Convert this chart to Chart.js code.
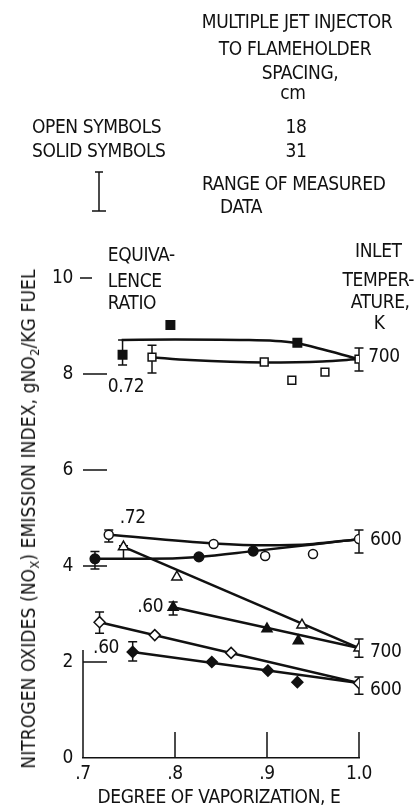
<!DOCTYPE html>
<html>
<head>
<meta charset="utf-8">
<script src="https://cdn.jsdelivr.net/npm/chart.js@4.4.0/dist/chart.umd.min.js"></script>
<style>
  html, body { margin: 0; padding: 0; background: #fff; }
  #wrap { position: relative; width: 420px; height: 808px; overflow: hidden;
          font-family: "Liberation Sans Narrow", "DejaVu Sans Condensed", sans-serif;
          font-size: 19px; color: #111; letter-spacing: -0.4px; }
  #wrap canvas { position: absolute; left: 0; top: 0; }
  .t { position: absolute; white-space: nowrap; line-height: 20px; }
  .c { transform: translateX(-50%); }
  #ytitle { position: absolute; left: 28px; top: 519px; white-space: nowrap; line-height: 20px;
            letter-spacing: 0.1px; transform: translate(-50%, -50%) rotate(-90deg); }
  #xtitle { position: absolute; left: 219px; top: 786px; white-space: nowrap; line-height: 20px;
            transform: translateX(-50%); }
  sub { font-size: 13px; vertical-align: -4px; line-height: 0; }
</style>
</head>
<body>
<div id="wrap">
  <canvas id="noxChart" width="420" height="808"></canvas>

  <div class="t c" style="left:297px; top:11px">MULTIPLE JET INJECTOR</div>
  <div class="t c" style="left:295px; top:38px">TO FLAMEHOLDER</div>
  <div class="t c" style="left:300px; top:62px">SPACING,</div>
  <div class="t c" style="left:293px; top:82px">cm</div>
  <div class="t" style="left:32px; top:116px">OPEN SYMBOLS</div>
  <div class="t c" style="left:296px; top:116px">18</div>
  <div class="t" style="left:32px; top:140px">SOLID SYMBOLS</div>
  <div class="t c" style="left:296px; top:140px">31</div>
  <div class="t" style="left:202px; top:173px">RANGE OF MEASURED</div>
  <div class="t" style="left:220px; top:196px">DATA</div>

  <div id="ytitle">NITROGEN OXIDES (NO<sub>X</sub>) EMISSION INDEX, gNO<sub>2</sub>/KG FUEL</div>
  <div id="xtitle">DEGREE OF VAPORIZATION, E</div>
</div>

<script>
// axis ticks
const xTicks = [0.7, 0.8, 0.9, 1.0];
const xTickLabels = ['.7', '.8', '.9', '1.0'];
const yTicks = [0, 2, 4, 6, 8, 10];
const yTickLabels = ['0', '2', '4', '6', '8', '10'];

// measured points (open = 18 cm spacing, solid = 31 cm spacing)
const sqOpenE = [0.775, 0.897, 0.927, 0.963, 1.0];
const sqOpenN = [8.35, 8.25, 7.87, 8.04, 8.31];
const sqSolidE = [0.743, 0.795, 0.933];
const sqSolidN = [8.40, 9.02, 8.65];
const ciOpenE = [0.728, 0.842, 0.898, 0.950, 1.0];
const ciOpenN = [4.65, 4.46, 4.21, 4.25, 4.56];
const ciSolidE = [0.713, 0.826, 0.885];
const ciSolidN = [4.15, 4.19, 4.31];
const trOpenE = [0.744, 0.802, 0.938, 1.0];
const trOpenN = [4.40, 3.77, 2.77, 2.29];
const trSolidE = [0.798, 0.900, 0.934];
const trSolidN = [3.14, 2.69, 2.44];
const diOpenE = [0.718, 0.778, 0.861, 1.0];
const diOpenN = [2.83, 2.56, 2.19, 1.56];
const diSolidE = [0.754, 0.840, 0.901, 0.933];
const diSolidN = [2.21, 2.00, 1.82, 1.58];

// faired curves
const fitSqSolidE = [0.742, 0.80, 0.87, 0.93, 0.965, 1.0];
const fitSqSolidN = [8.71, 8.72, 8.71, 8.65, 8.49, 8.31];
const fitSqOpenE = [0.775, 0.816, 0.897, 0.96, 1.0];
const fitSqOpenN = [8.35, 8.29, 8.24, 8.26, 8.31];
const fitCiOpenE = [0.728, 0.842, 0.90, 0.95, 1.0];
const fitCiOpenN = [4.65, 4.47, 4.43, 4.46, 4.56];
const fitCiSolidE = [0.713, 0.77, 0.826, 0.885, 0.95, 1.0];
const fitCiSolidN = [4.15, 4.15, 4.19, 4.31, 4.45, 4.56];
const fitTrOpenE = [0.744, 1.0];
const fitTrOpenN = [4.40, 2.29];
const fitTrSolidE = [0.798, 1.0];
const fitTrSolidN = [3.14, 2.29];
const fitDiOpenE = [0.718, 1.0];
const fitDiOpenN = [2.83, 1.56];
const fitDiSolidE = [0.754, 1.0];
const fitDiSolidN = [2.21, 1.56];

// range of measured data
const errE = [0.743, 0.775, 1.0, 0.728, 1.0, 0.713, 0.744, 0.798, 1.0, 0.718, 0.754, 1.0];
const errLo = [8.19, 8.02, 8.06, 4.50, 4.27, 3.94, 4.15, 2.98, 2.10, 2.60, 2.02, 1.33];
const errHi = [8.71, 8.60, 8.54, 4.75, 4.75, 4.30, 4.42, 3.25, 2.48, 3.04, 2.42, 1.69];

// labels inside the plot
const noteText = ['EQUIVA-', 'LENCE', 'RATIO', '0.72', 'INLET', 'TEMPER-', 'ATURE,', 'K',
                  '700', '.72', '600', '.60', '.60', '700', '600'];
const noteE = [0.727, 0.727, 0.727, 0.727, 1.021, 1.021, 1.023, 1.022,
               1.010, 0.740, 1.012, 0.759, 0.711, 1.012, 1.012];
const noteN = [10.46, 9.92, 9.46, 7.73, 10.54, 9.94, 9.48, 9.04,
               8.35, 5.0, 4.54, 3.15, 2.29, 2.21, 1.42];
const noteAlign = ['left', 'left', 'left', 'left', 'center', 'center', 'center', 'center',
                   'left', 'left', 'left', 'left', 'left', 'left', 'left'];

const ink = '#111';
const FONT = '"Liberation Sans Narrow", "DejaVu Sans Condensed", sans-serif';

function pts(xs, ys) {
  return xs.map((x, i) => ({ x: x, y: ys[i] }));
}

function marks(xs, ys, style, radius, solid) {
  return {
    data: pts(xs, ys), showLine: false, order: 1,
    pointStyle: style, pointRadius: radius, pointHoverRadius: radius,
    pointBackgroundColor: solid ? ink : '#fff', pointBorderColor: ink, pointBorderWidth: 1.5
  };
}

function curve(xs, ys, smooth) {
  return {
    data: pts(xs, ys), showLine: true, order: 2, pointRadius: 0,
    borderColor: ink, borderWidth: 2.5, fill: false,
    cubicInterpolationMode: smooth ? 'monotone' : 'default', tension: 0
  };
}

const extras = {
  id: 'extras',
  beforeDatasetsDraw(chart) {
    const ctx = chart.ctx, xs = chart.scales.x, ys = chart.scales.y;
    const x0 = xs.getPixelForValue(0.7), y0 = ys.getPixelForValue(0);
    ctx.save();
    ctx.strokeStyle = ink;
    ctx.lineWidth = 1.5;
    ctx.beginPath();
    // short left axis piece
    ctx.moveTo(x0, y0);
    ctx.lineTo(x0, ys.getPixelForValue(2.25));
    // x ticks point up into the plot
    xTicks.slice(1).forEach(v => {
      const x = xs.getPixelForValue(v);
      ctx.moveTo(x, y0);
      ctx.lineTo(x, y0 - 26);
    });
    // y ticks as dashes
    yTicks.slice(1).forEach(v => {
      const y = ys.getPixelForValue(v);
      if (v === 10) { ctx.moveTo(x0 - 3, y); ctx.lineTo(x0 + 9, y); }
      else { ctx.moveTo(x0, y); ctx.lineTo(x0 + 24, y); }
    });
    // error bars
    errE.forEach((e, i) => {
      const x = xs.getPixelForValue(e);
      const a = ys.getPixelForValue(errLo[i]), b = ys.getPixelForValue(errHi[i]);
      ctx.moveTo(x, a); ctx.lineTo(x, b);
      ctx.moveTo(x - 4.5, a); ctx.lineTo(x + 4.5, a);
      ctx.moveTo(x - 4.5, b); ctx.lineTo(x + 4.5, b);
    });
    // key symbol in the header
    ctx.moveTo(99, 172); ctx.lineTo(99, 211);
    ctx.moveTo(95, 172); ctx.lineTo(103, 172);
    ctx.moveTo(92, 211); ctx.lineTo(106, 211);
    ctx.stroke();
    ctx.restore();
  },
  afterDatasetsDraw(chart) {
    const ctx = chart.ctx, xs = chart.scales.x, ys = chart.scales.y;
    ctx.save();
    ctx.fillStyle = ink;
    ctx.font = '19px ' + FONT;
    ctx.textBaseline = 'middle';
    noteText.forEach((t, i) => {
      ctx.textAlign = noteAlign[i];
      ctx.fillText(t, xs.getPixelForValue(noteE[i]), ys.getPixelForValue(noteN[i]));
    });
    ctx.restore();
  }
};

new Chart(document.getElementById('noxChart').getContext('2d'), {
  type: 'scatter',
  data: {
    datasets: [
      marks(sqOpenE, sqOpenN, 'rect', 5.5, false),
      marks(sqSolidE, sqSolidN, 'rect', 6, true),
      marks(ciOpenE, ciOpenN, 'circle', 4.5, false),
      marks(ciSolidE, ciSolidN, 'circle', 4.8, true),
      marks(trOpenE, trOpenN, 'triangle', 5.8, false),
      marks(trSolidE, trSolidN, 'triangle', 5.8, true),
      marks(diOpenE, diOpenN, 'rectRot', 5.5, false),
      marks(diSolidE, diSolidN, 'rectRot', 5.5, true),
      curve(fitSqSolidE, fitSqSolidN, true),
      curve(fitSqOpenE, fitSqOpenN, true),
      curve(fitCiOpenE, fitCiOpenN, true),
      curve(fitCiSolidE, fitCiSolidN, true),
      curve(fitTrOpenE, fitTrOpenN, false),
      curve(fitTrSolidE, fitTrSolidN, false),
      curve(fitDiOpenE, fitDiOpenN, false),
      curve(fitDiSolidE, fitDiSolidN, false)
    ]
  },
  options: {
    responsive: false,
    animation: false,
    events: [],
    layout: { padding: { top: 278, right: 61, left: 0, bottom: 0 } },
    plugins: { legend: { display: false }, tooltip: { enabled: false } },
    scales: {
      x: {
        type: 'linear', min: 0.7, max: 1.0,
        afterBuildTicks: s => { s.ticks = xTicks.map(v => ({ value: v })); },
        afterFit: s => { s.height = 50; },
        grid: { display: false, drawTicks: false },
        border: { display: true, color: ink, width: 1.5 },
        ticks: { color: ink, padding: 5, font: { family: FONT, size: 19 },
                 maxRotation: 0, callback: (v, i) => xTickLabels[i] }
      },
      y: {
        type: 'linear', min: 0, max: 10,
        afterBuildTicks: s => { s.ticks = yTicks.map(v => ({ value: v })); },
        afterFit: s => { s.width = 83; },
        grid: { display: false, drawTicks: false },
        border: { display: false },
        ticks: { color: ink, padding: 10, font: { family: FONT, size: 19 },
                 callback: (v, i) => yTickLabels[i] }
      }
    }
  },
  plugins: [extras]
});
</script>
</body>
</html>
